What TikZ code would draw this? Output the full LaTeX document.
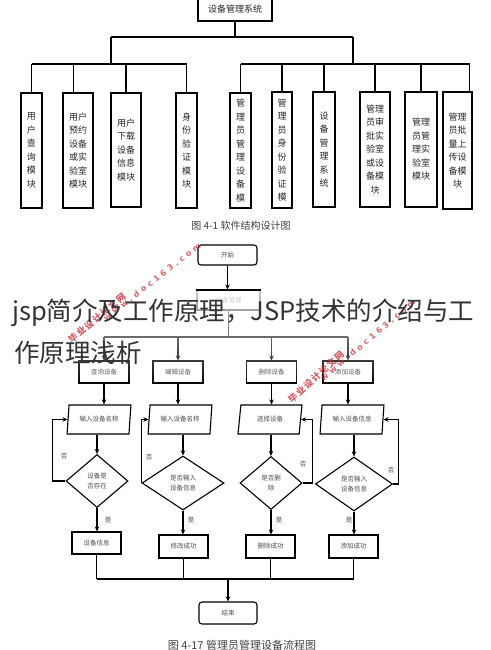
\documentclass[tikz,border=0pt]{standalone}
\usepackage{fontspec}
\setmainfont{Liberation Sans}
\newfontfamily\cjk{Noto Sans CJK SC}
\newfontfamily\wmcjk[LetterSpace=15]{Noto Sans CJK SC}
\newfontfamily\wmlat[LetterSpace=40]{DejaVu Sans}
\usetikzlibrary{shapes.geometric,arrows.meta,calc,fadings}
\definecolor{wmred}{HTML}{C4303A}
\tikzset{
  orgbox/.style={draw, line width=1.2pt, inner sep=0pt, align=center, text=black!85,
    font=\cjk\fontsize{9}{13.5}\selectfont},
  orgline/.style={line width=1.2pt},
  fl/.style={line width=1.1pt},
  arr/.style={fl, -{Stealth[length=5pt,width=4.5pt]}},
  proc/.style={draw, line width=1.1pt, inner sep=0pt, align=center, text=black!70,
    font=\cjk\fontsize{6.5}{10}\selectfont},
  term/.style={proc, rounded corners=3pt},
  io/.style={proc, trapezium, trapezium left angle=78, trapezium right angle=102,
    trapezium stretches=true},
  dec/.style={proc, diamond},
  lbl/.style={inner sep=0pt, text=black!70, font=\cjk\fontsize{6.5}{8}\selectfont},
}
\begin{document}
\begin{tikzpicture}[x=1pt,y=-1pt]
\useasboundingbox (0,0) rectangle (490,650);
\fill[white] (0,0) rectangle (490,650);

% ---------- org chart ----------
\node[orgbox, minimum width=74pt, minimum height=24pt] (root) at (235,9) {设备管理系统};
\node[orgbox, minimum width=21pt, minimum height=115pt] (b1) at (31.5,150.5) {用\\户\\查\\询\\模\\块};
\node[orgbox, minimum width=30pt, minimum height=115pt] (b2) at (78,150.5) {用户\\预约\\设备\\或实\\验室\\模块};
\node[orgbox, minimum width=30pt, minimum height=114pt] (b3) at (126,150) {用户\\下载\\设备\\信息\\模块};
\node[orgbox, minimum width=21pt, minimum height=115pt] (b4) at (186.5,150.5) {身\\份\\验\\证\\模\\块};
\node[orgbox, minimum width=21pt, minimum height=115pt] (b5) at (240.5,150.5) {管\\理\\员\\管\\理\\设\\备\\模};
\node[orgbox, minimum width=20pt, minimum height=116pt] (b6) at (282,150) {管\\理\\员\\身\\份\\验\\证\\模};
\node[orgbox, minimum width=22pt, minimum height=115pt] (b7) at (324,149.5) {设\\备\\管\\理\\系\\统};
\node[orgbox, minimum width=30pt, minimum height=115pt] (b8) at (375,149.5) {管理\\员审\\批实\\验室\\或设\\备模\\块};
\node[orgbox, minimum width=32pt, minimum height=115pt] (b9) at (421,149.5) {管理\\员管\\理实\\验室\\模块};
\node[orgbox, minimum width=29pt, minimum height=117pt] (b10) at (457.5,150.5) {管理\\员批\\量上\\传设\\备模\\块};

\coordinate (top) at (235,37);
\coordinate (lb) at (111,64);
\coordinate (rb) at (353,64);
\coordinate (b2t) at ($(b2.north west)+(11,0)$);
\coordinate (b10t) at ($(b10.north east)+(-3,0)$);
\draw[orgline] (root.south) -- (top);
\draw[orgline] (lb |- top) -- (rb |- top);
\draw[orgline] (lb |- top) -- (lb);
\draw[orgline] (rb |- top) -- (rb);
\draw[orgline] (b1.north |- lb) -- (b4.north |- lb);
\draw[orgline] (b5.north |- rb) -- (b10t |- rb);
\foreach \b in {b1,b3,b4}{\draw[orgline] (\b.north |- lb) -- (\b.north);}
\draw[orgline] (b2t |- lb) -- (b2t);
\foreach \b in {b5,b6,b7,b8,b9}{\draw[orgline] (\b.north |- rb) -- (\b.north);}
\draw[orgline] (b10t |- rb) -- (b10t);

\node[inner sep=0pt, text=black!75, font=\cjk\fontsize{10}{12}\selectfont] (cap1) at (241,226) {图 4-1 软件结构设计图};

% ---------- flow chart ----------
\node[term, minimum width=59pt, minimum height=20pt] (start) at (227.5,255) {开始};
\node[proc, minimum width=63pt, minimum height=20pt] (mgmt) at (228.5,300) {设备管理};

\node[proc, minimum width=50pt, minimum height=22pt] (q1) at (104,372) {查询设备};
\node[proc, minimum width=50pt, minimum height=22pt] (q2) at (178,372) {编辑设备};
\node[proc, minimum width=50pt, minimum height=22pt] (q3) at (271.5,372) {删除设备};
\node[proc, minimum width=50pt, minimum height=22pt] (q4) at (348,372) {添加设备};

\node[io, minimum width=64pt, minimum height=29pt] (p1) at (99,419.5) {输入设备名称};
\node[io, minimum width=64pt, minimum height=29pt] (p2) at (180,419.5) {输入设备名称};
\node[io, minimum width=64pt, minimum height=29pt] (p3) at (270,419.5) {选择设备};
\node[io, minimum width=64pt, minimum height=29pt] (p4) at (352,419.5) {输入设备信息};

\node[dec, minimum width=62pt, minimum height=53pt] (d1) at (97,481) {设备是\\否存在};
\node[dec, minimum width=82pt, minimum height=54pt] (d2) at (183,483) {是否输入\\设备信息};
\node[dec, minimum width=62pt, minimum height=53pt] (d3) at (271,483) {是否删\\除};
\node[dec, minimum width=77pt, minimum height=54pt] (d4) at (354,484) {是否输入\\设备信息};

\node[proc, minimum width=49pt, minimum height=22pt] (r1) at (96.5,543) {设备信息};
\node[proc, minimum width=49pt, minimum height=23pt] (r2) at (183.5,546.5) {修改成功};
\node[proc, minimum width=49pt, minimum height=23pt] (r3) at (270.5,546.5) {删除成功};
\node[proc, minimum width=49pt, minimum height=23pt] (r4) at (353.5,546.5) {添加成功};

\node[term, minimum width=58pt, minimum height=22pt] (end) at (228,613) {结束};

\coordinate (bus) at (228,337);
\coordinate (mg) at (228,579);

\draw[arr] (start.south) -- (start.south |- mgmt.north);
\draw[fl] (mgmt.south) -- (mgmt.south |- bus);
\draw[fl] (q1.north |- bus) -- (q4.north |- bus);
\foreach \q in {q1,q2,q3,q4}{\draw[arr] (\q.north |- bus) -- (\q.north);}
\draw[arr] (q1.south) -- (q1.south |- p1.north);
\draw[arr] (q2.south) -- (q2.south |- p2.north);
\draw[arr] (q3.south) -- (q3.south |- p3.north);
\draw[arr] (q4.south) -- (q4.south |- p4.north);
\draw[arr] (d1.north |- p1.south) -- (d1.north);
\draw[arr] (d2.north |- p2.south) -- (d2.north);
\draw[arr] (d3.north |- p3.south) -- (d3.north);
\draw[arr] (d4.north |- p4.south) -- (d4.north);

\draw[arr] (d1.west) -- ++(-13,0) |- (p1.west);
\draw[arr] (d2.west) |- (p2.west);
\draw[arr] (d3.east) -- ++(10,0) |- (p3.east);
\draw[arr] (d4.east) -- ++(5,0) |- (p4.east);
\node[lbl] (n1) at (64,456) {否};
\node[lbl] (n2) at (149,457) {否};
\node[lbl] (n3) at (303,464) {否};
\node[lbl] (n4) at (391,470) {否};

\draw[arr] (d1.south) -- (d1.south |- r1.north);
\draw[arr] (d2.south) -- (d2.south |- r2.north);
\draw[arr] (d3.south) -- (d3.south |- r3.north);
\draw[arr] (d4.south) -- (d4.south |- r4.north);
\node[lbl] (y1) at (108,520) {是};
\node[lbl] (y2) at (191,520) {是};
\node[lbl] (y3) at (279,520) {是};
\node[lbl] (y4) at (349,520) {是};

\foreach \r in {r1,r2,r3,r4}{\draw[fl] (\r.south) -- (\r.south |- mg);}
\draw[fl] (r1.south |- mg) -- (r4.south |- mg);
\draw[arr] (mg) -- (end.north);

\node[inner sep=0pt, text=black!75, font=\cjk\fontsize{11}{13}\selectfont] (cap2) at (242,645.5) {图 4-17 管理员管理设备流程图};

% ---------- white fade over the upper flow chart ----------
\fill[white, fill opacity=0.8, path fading=south] (0,291) rectangle (490,386);

% ---------- watermarks ----------
\node[rotate=40, text=wmred, opacity=0.8, font=\wmcjk\bfseries\fontsize{9}{10}\selectfont] (wm1) at (97,318) {毕业设计论文网};
\node[rotate=38, text=wmred, opacity=0.75, font=\wmlat\bfseries\fontsize{8}{9}\selectfont] (wm2) at (152,282) {www.doc163.com};
\node[rotate=42, text=wmred, opacity=0.8, font=\wmcjk\bfseries\fontsize{9}{10}\selectfont] (wm3) at (316,377) {毕业设计论文网};
\node[rotate=40, text=wmred, opacity=0.75, font=\wmlat\bfseries\fontsize{8}{9}\selectfont] (wm4) at (368,340) {www.doc163.com};

% ---------- overlay title ----------
\node[anchor=west, inner sep=0pt, text=black!80, font=\cjk\fontsize{25.5}{30}\selectfont] (title1) at (12,313) {jsp简介及工作原理，JSP技术的介绍与工};
\node[anchor=west, inner sep=0pt, text=black!80, font=\cjk\fontsize{25.5}{30}\selectfont] (title2) at (14,353) {作原理浅析};
\end{tikzpicture}
\end{document}
